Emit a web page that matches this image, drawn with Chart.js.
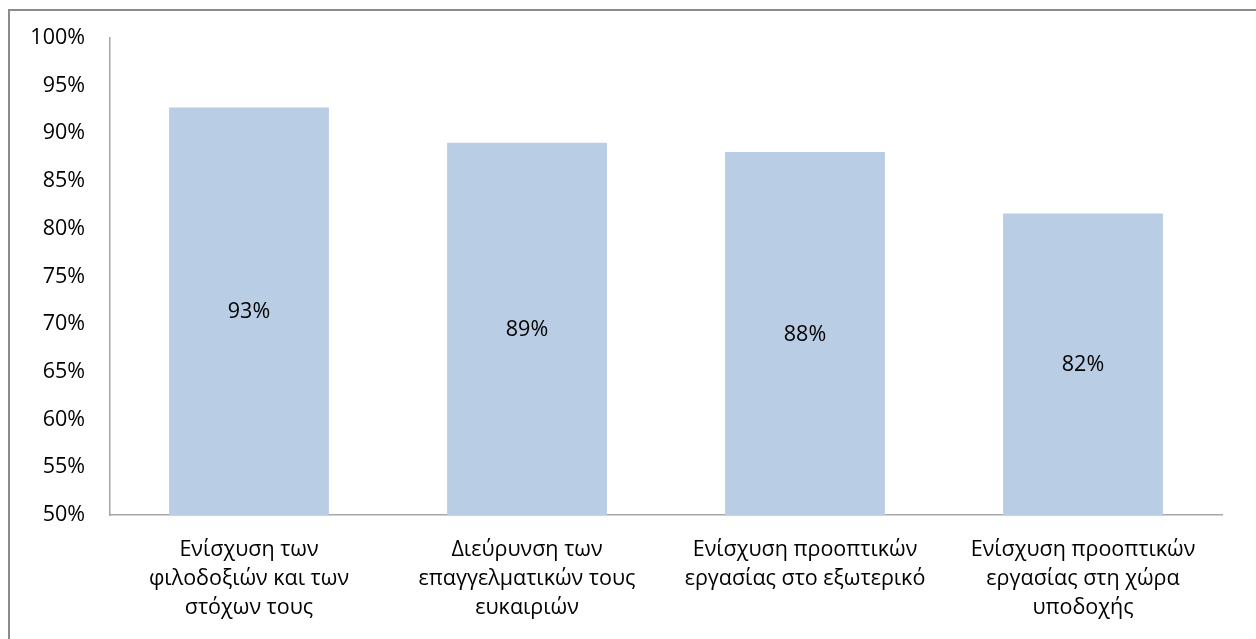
<!DOCTYPE html>
<html>
<head>
<meta charset="utf-8">
<script src="https://cdn.jsdelivr.net/npm/chart.js@4.4.1/dist/chart.umd.min.js"></script>
<style>
  html, body { margin: 0; padding: 0; background: #fff; }
  #wrap { position: relative; width: 1256px; height: 639px; overflow: hidden; }
  #frame { position: absolute; left: 8px; top: 9px; width: 1300px; height: 700px; border: 2px solid #8c8c8c; box-sizing: border-box; }
  #c { position: absolute; left: 0; top: 0; }
</style>
</head>
<body>
<div id="wrap">
  <div id="frame"></div>
  <canvas id="c" width="1256" height="639"></canvas>
</div>
<script>
const categories = [
  ['Ενίσχυση των', 'φιλοδοξιών και των', 'στόχων τους'],
  ['Διεύρυνση των', 'επαγγελματικών τους', 'ευκαιριών'],
  ['Ενίσχυση προοπτικών', 'εργασίας στο εξωτερικό'],
  ['Ενίσχυση προοπτικών', 'εργασίας στη χώρα', 'υποδοχής']
];
const values = [92.7, 89.0, 88.05, 81.6];
const valueLabels = ['93%', '89%', '88%', '82%'];

const FONT = "'Open Sans', 'Noto Sans', sans-serif";

// value labels in the middle of the visible part of each bar
const centerLabels = {
  id: 'centerLabels',
  afterDatasetsDraw(chart) {
    const ctx = chart.ctx;
    const meta = chart.getDatasetMeta(0);
    const bottom = chart.chartArea.bottom;
    ctx.save();
    ctx.font = '21.5px ' + FONT;
    ctx.fillStyle = '#000';
    ctx.textAlign = 'center';
    ctx.textBaseline = 'middle';
    meta.data.forEach((bar, i) => {
      const p = bar.getProps(['x', 'y', 'base'], true);
      ctx.fillText(valueLabels[i], p.x, (p.y + Math.min(p.base, bottom)) / 2 + 1);
    });
    ctx.restore();
  }
};

new Chart(document.getElementById('c'), {
  type: 'bar',
  data: {
    labels: categories,
    datasets: [{
      data: values,
      backgroundColor: '#B9CDE5',
      categoryPercentage: 1,
      barPercentage: 0.575
    }]
  },
  options: {
    responsive: false,
    animation: false,
    layout: { padding: { top: 33, right: 34, left: 0, bottom: 0 } },
    plugins: { legend: { display: false }, tooltip: { enabled: false } },
    scales: {
      x: {
        grid: { display: false, drawTicks: false },
        border: { color: '#a6a6a6', width: 1.5 },
        ticks: { color: '#000', font: { family: FONT, size: 21.5, lineHeight: 1.33 }, padding: 21, maxRotation: 0, autoSkip: false },
        afterFit(scale) { scale.height = 124; }
      },
      y: {
        min: 50, max: 100,
        grid: { display: false, drawTicks: false },
        border: { color: '#a6a6a6', width: 1.5 },
        ticks: {
          stepSize: 5,
          color: '#000',
          font: { family: FONT, size: 21.5 },
          padding: 25,
          callback: v => v + '%'
        },
        afterFit(scale) { scale.width = 110; }
      }
    }
  },
  plugins: [centerLabels]
});
</script>
</body>
</html>
